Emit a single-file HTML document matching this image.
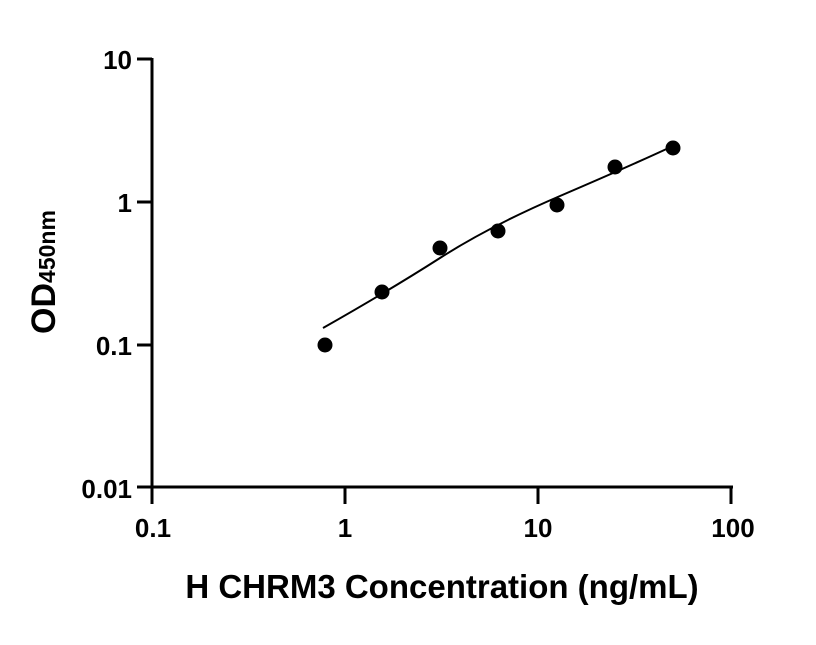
<!DOCTYPE html>
<html><head><style>body{margin:0;background:#fff}</style></head><body>
<svg width="816" height="640" xmlns="http://www.w3.org/2000/svg" font-family="Liberation Sans, sans-serif" font-weight="bold">
<g stroke="#000" stroke-width="3" fill="none">
<line x1="152" y1="58" x2="152" y2="504"/>
<line x1="137" y1="487" x2="733" y2="487"/>
<line x1="137" y1="59" x2="152" y2="59"/>
<line x1="137" y1="202" x2="152" y2="202"/>
<line x1="137" y1="345" x2="152" y2="345"/>
<line x1="345" y1="487" x2="345" y2="504"/>
<line x1="538" y1="487" x2="538" y2="504"/>
<line x1="731" y1="487" x2="731" y2="504"/>
</g>
<path d="M323,328 Q390,290 440,258 T560,196 T673,146" stroke="#000" stroke-width="2" fill="none"/>
<g fill="#000">
<circle cx="325" cy="345" r="7.5"/><circle cx="382" cy="292" r="7.5"/><circle cx="440" cy="248" r="7.5"/><circle cx="498" cy="231" r="7.5"/><circle cx="557" cy="205" r="7.5"/><circle cx="615" cy="167" r="7.5"/><circle cx="673" cy="148" r="7.5"/>
</g>
<g font-size="26" text-anchor="end">
<text x="132" y="69">10</text><text x="132" y="212">1</text><text x="132" y="355">0.1</text><text x="132" y="498">0.01</text>
</g>
<g font-size="26" text-anchor="middle">
<text x="153" y="537">0.1</text><text x="345" y="537">1</text><text x="538" y="537">10</text><text x="733" y="537">100</text>
</g>
<text x="442" y="598" font-size="33" text-anchor="middle">H CHRM3 Concentration (ng/mL)</text>
<text transform="translate(55,272) rotate(-90)" font-size="34" text-anchor="middle">OD<tspan font-size="23">450nm</tspan></text>
</svg>
</body></html>
